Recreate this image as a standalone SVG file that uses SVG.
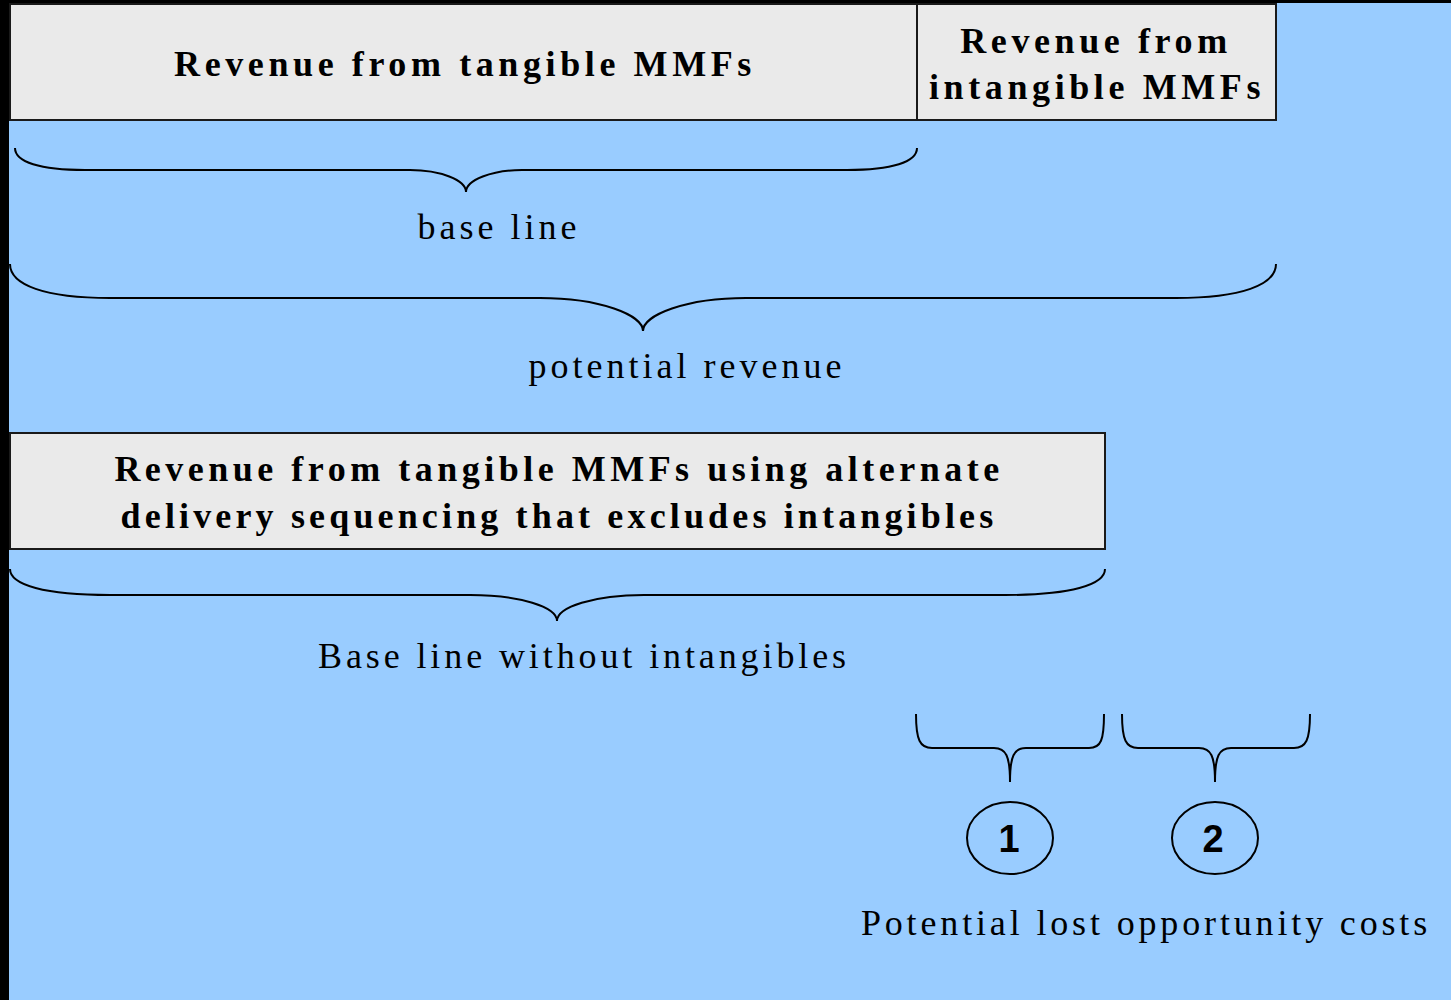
<svg xmlns="http://www.w3.org/2000/svg" width="1451" height="1000" viewBox="0 0 1451 1000">
<style>
.box{fill:#EAEAEA;stroke:#1a1a1a;stroke-width:2}
.bt{font-family:"Liberation Serif","Times New Roman",serif;font-weight:bold;font-size:36px;letter-spacing:4.6px;fill:#000;text-anchor:middle}
.rt{font-family:"Liberation Serif","Times New Roman",serif;font-size:36px;letter-spacing:4px;fill:#000;text-anchor:middle}
.num{font-family:"Liberation Sans",Arial,sans-serif;font-weight:bold;font-size:38px;fill:#000;text-anchor:middle}
.br{fill:none;stroke:#000;stroke-width:2}
.ell{fill:none;stroke:#000;stroke-width:2}
</style>
<rect x="0" y="0" width="1451" height="1000" fill="#000"/>
<rect x="9" y="3" width="1442" height="997" fill="#99CCFF"/>
<g id="tangible">
<rect class="box" x="10" y="4" width="907" height="116"/>
<text class="bt" x="465" y="76">Revenue from tangible MMFs</text>
</g>
<g id="intangible">
<rect class="box" x="917" y="4" width="359" height="116"/>
<text class="bt" x="1096" y="53">Revenue from</text>
<text class="bt" x="1097" y="99">intangible MMFs</text>
</g>
<g id="alternate">
<rect class="box" x="10" y="433" width="1095" height="116"/>
<text class="bt" x="559" y="481" style="letter-spacing:4.5px">Revenue from tangible MMFs using alternate</text>
<text class="bt" x="559" y="528" style="letter-spacing:4.15px">delivery sequencing that excludes intangibles</text>
</g>
<g id="connectors">
<path class="br" d="M15 148 C15 162 40 170 85 170 L410 170 C440 170 466 180 466 192 C466 180 492 170 522 170 L847 170 C892 170 917 162 917 148"/>
<path class="br" d="M10 264 C10 285 45 298 110 298 L540 298 C600 298 643 315 643 331 C643 315 686 298 746 298 L1176 298 C1241 298 1276 285 1276 264"/>
<path class="br" d="M10 569 C10 585 45 595 110 595 L470 595 C520 595 557 607 557 621 C557 607 594 595 644 595 L1005 595 C1070 595 1105 585 1105 569"/>
<path class="br" d="M916 714 C916 740 920 748 932 748 L994 748 C1006 748 1010 756 1010 782 C1010 756 1014 748 1026 748 L1089 748 C1101 748 1104 740 1104 714"/>
<path class="br" d="M1122 714 C1122 740 1126 748 1138 748 L1199 748 C1211 748 1215 756 1215 782 C1215 756 1219 748 1231 748 L1294 748 C1306 748 1310 740 1310 714"/>
</g>
<g id="label-baseline"><text class="rt" x="499" y="239">base line</text></g>
<g id="label-potential"><text class="rt" x="687" y="378">potential revenue</text></g>
<g id="label-without"><text class="rt" x="584" y="668" style="letter-spacing:3.9px">Base line without intangibles</text></g>
<g id="circle1">
<ellipse class="ell" cx="1010" cy="838" rx="43" ry="36"/>
<text class="num" x="1009" y="852">1</text>
</g>
<g id="circle2">
<ellipse class="ell" cx="1215" cy="838" rx="43" ry="36"/>
<text class="num" x="1213" y="852">2</text>
</g>
<g id="label-lost"><text class="rt" x="1146" y="935" style="letter-spacing:3.85px">Potential lost opportunity costs</text></g>
</svg>
